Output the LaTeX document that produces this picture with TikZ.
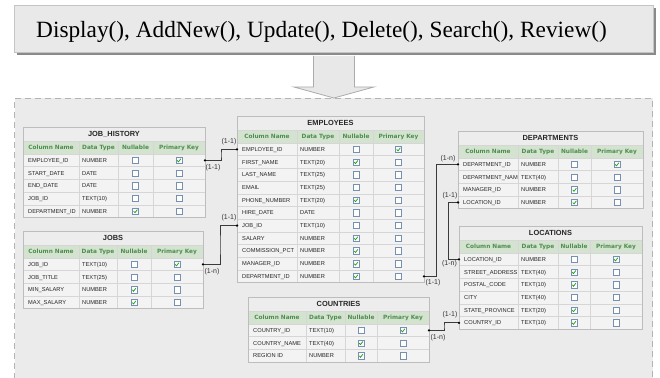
\documentclass[tikz,border=0pt]{standalone}
\usepackage{fontspec}
\setmainfont{Liberation Sans}
\newfontfamily\bannerfont{Liberation Serif}
\newfontfamily\headfont{DejaVu Sans}
\usetikzlibrary{calc}

\definecolor{areabg}{HTML}{EBEBEB}
\definecolor{areadash}{HTML}{B4B4B4}
\definecolor{banbg}{HTML}{E9E9E9}
\definecolor{banline}{HTML}{C4C4C4}
\definecolor{banshadow}{HTML}{8A8A8A}
\definecolor{arrowbg}{HTML}{E8E8E8}
\definecolor{arrowline}{HTML}{ABABAB}
\definecolor{tblline}{HTML}{BDBDBD}
\definecolor{gridline}{HTML}{D6D6D6}
\definecolor{rowbg}{HTML}{F3F3F3}
\definecolor{titlebg}{HTML}{EDEDED}
\definecolor{headbg}{HTML}{D4E2D0}
\definecolor{headtxt}{HTML}{4E8E4E}
\definecolor{boxline}{HTML}{7890B0}
\definecolor{tickgreen}{HTML}{1FA31F}
\definecolor{linkline}{HTML}{3A3A3A}

\tikzset{
  celltext/.style={anchor=base west, inner sep=0pt, font=\fontsize{5.7}{6}\selectfont, text=black!85},
  headtext/.style={anchor=base, inner sep=0pt, font=\headfont\bfseries\fontsize{5.8}{6}\selectfont, text=headtxt},
  titletext/.style={anchor=base, inner sep=0pt, font=\bfseries\fontsize{7.4}{8}\selectfont, text=black!85},
  tablebody/.style={draw=tblline, fill=rowbg, line width=0.8pt, anchor=north west, inner sep=0pt, outer sep=0pt},
  gridrule/.style={draw=gridline, line width=0.6pt},
  checkbox/.style={draw=boxline, fill=white, line width=0.6pt},
  tick/.style={draw=tickgreen, line width=0.75pt},
  link/.style={draw=linkline, line width=0.9pt},
  cardinality/.style={inner sep=0pt, font=\fontsize{7}{8}\selectfont, text=black!80},
}

% check box centred at (#1,#2); #3 = 1 draws the tick
\newcommand\ckbox[3]{%
  \draw[checkbox] ({#1-3.2},{#2-3.2}) rectangle ({#1+3.2},{#2+3.2});
  \ifnum#3=1 \draw[tick] ({#1-1.8},{#2+0.1}) -- ({#1-0.5},{#2+1.5}) -- ({#1+1.9},{#2-1.6});\fi
}

% table: name, left, top, column rules 1-3, right, title, rows
\newcommand\ertable[9]{%
  \def\nrows{0}%
  \foreach \r [count=\k] in {#9} {\xdef\nrows{\k}}%
  \pgfmathsetmacro\ybot{#3+27+12.7*\nrows}%
  \node[tablebody, minimum width={(#7-#2)*1pt}, minimum height={(\ybot-#3)*1pt}] (#1) at (#2,#3) {};
  \fill[titlebg] (#2,#3) rectangle (#7,{#3+14});
  \fill[headbg] (#2,{#3+14}) rectangle (#7,{#3+27});
  \draw[gridrule] (#2,{#3+14}) -- (#7,{#3+14});
  \draw[gridrule] (#2,{#3+27}) -- (#7,{#3+27});
  \foreach \i in {2,...,\nrows} {\draw[gridrule] (#2,{#3+27+12.7*(\i-1)}) -- (#7,{#3+27+12.7*(\i-1)});}
  \foreach \cx in {#4,#5,#6} {\draw[gridrule] (\cx,{#3+14}) -- (\cx,\ybot);}
  \draw[draw=tblline, line width=0.8pt] (#2,#3) rectangle (#7,\ybot);
  \node[titletext] at ({(#2+#7)/2},{#3+9.6}) {#8};
  \node[headtext] at ({(#2+#4)/2},{#3+22.6}) {Column Name};
  \node[headtext] at ({(#4+#5)/2},{#3+22.6}) {Data Type};
  \node[headtext] at ({(#5+#6)/2},{#3+22.6}) {Nullable};
  \node[headtext] at ({(#6+#7)/2},{#3+22.6}) {Primary Key};
  \begin{scope}
    \clip (#2,#3) rectangle ({#4-0.8},\ybot);
    \foreach \colnm/\dtype/\cbn/\cbp [count=\i] in {#9} {
      \node[celltext] at ({#2+5},{#3+27+12.7*(\i-0.5)+2}) {\colnm};
    }
  \end{scope}
  \foreach \colnm/\dtype/\cbn/\cbp [count=\i] in {#9} {
    \pgfmathsetmacro\yc{#3+27+12.7*(\i-0.5)}
    \node[celltext] at ({#4+3},{\yc+2}) {\dtype};
    \ckbox{(#5+#6)/2}{\yc}{\cbn}
    \ckbox{(#6+#7)/2}{\yc}{\cbp}
    \coordinate (#1-\i-w) at (#2,\yc);
    \coordinate (#1-\i-e) at (#7,\yc);
  }
}

\begin{document}
\begin{tikzpicture}[x=1pt,y=-1pt]
\useasboundingbox (0,0) rectangle (660,377);
\clip (0,0) rectangle (660,377);

% operations banner
\fill[banshadow] (17,8) rectangle (656,55);
\node[draw=banline, fill=banbg, line width=0.8pt, anchor=north west, minimum width=639pt, minimum height=47pt, inner sep=0pt] (banner) at (14,5) {};
\node[anchor=base west, inner sep=0pt, font=\bannerfont\fontsize{23.3}{26}\selectfont] (ops) at (36,37.3) {Display(), AddNew(), Update(), Delete(), Search(), Review()};

% schema area
\node[draw=areadash, dash pattern=on 6pt off 4pt, line width=1pt, fill=areabg, anchor=north west, minimum width=638pt, minimum height=300pt, inner sep=0pt] (area) at (14,98) {};

% block arrow from banner to schema
\draw[fill=arrowbg, draw=arrowline, line width=0.8pt]
  ($(banner.south)+(-20.5,3)$) -- ($(banner.south |- area.north)+(-20.5,-11)$)
  -- ($(banner.south |- area.north)+(-40,-11)$) -- (banner.south |- area.north)
  -- ($(banner.south |- area.north)+(40,-11)$) -- ($(banner.south |- area.north)+(20.5,-11)$)
  -- ($(banner.south)+(20.5,3)$);

% tables
\ertable{JH}{23}{127}{79}{118}{153}{205}{JOB\_HISTORY}{EMPLOYEE\_ID/NUMBER/0/1, START\_DATE/DATE/0/0, END\_DATE/DATE/0/0, JOB\_ID/TEXT(10)/0/0, DEPARTMENT\_ID/NUMBER/1/0}
\ertable{JOBS}{23}{231}{79}{117}{151}{203}{JOBS}{JOB\_ID/TEXT(10)/0/1, JOB\_TITLE/TEXT(25)/0/0, MIN\_SALARY/NUMBER/1/0, MAX\_SALARY/NUMBER/1/0}
\ertable{EMP}{237}{116}{297}{339}{373}{424}{EMPLOYEES}{EMPLOYEE\_ID/NUMBER/0/1, FIRST\_NAME/TEXT(20)/1/0, LAST\_NAME/TEXT(25)/0/0, EMAIL/TEXT(25)/0/0, PHONE\_NUMBER/TEXT(20)/1/0, HIRE\_DATE/DATE/0/0, JOB\_ID/TEXT(10)/0/0, SALARY/NUMBER/1/0, COMMISSION\_PCT/NUMBER/1/0, MANAGER\_ID/NUMBER/1/0, DEPARTMENT\_ID/NUMBER/1/0}
\ertable{DEP}{458}{131}{518}{558}{591}{643}{DEPARTMENTS}{DEPARTMENT\_ID/NUMBER/0/1, DEPARTMENT\_NAME/TEXT(40)/0/0, MANAGER\_ID/NUMBER/1/0, LOCATION\_ID/NUMBER/1/0}
\ertable{LOC}{459}{226}{518}{558}{590}{642}{LOCATIONS}{LOCATION\_ID/NUMBER/0/1, STREET\_ADDRESS/TEXT(40)/1/0, POSTAL\_CODE/TEXT(10)/1/0, CITY/TEXT(40)/0/0, STATE\_PROVINCE/TEXT(20)/1/0, COUNTRY\_ID/TEXT(10)/1/0}
\ertable{CTRY}{248}{297}{306}{345}{377}{429}{COUNTRIES}{COUNTRY\_ID/TEXT(10)/0/1, COUNTRY\_NAME/TEXT(40)/1/0, REGION ID/NUMBER/1/0}

% relationships
\draw[link] (JH-1-e) -| ($(JH-1-e)!.5!(EMP-1-w)$) |- (EMP-1-w);
\draw[link] (JOBS-1-e) -| ($(JOBS-1-e)!.5!(EMP-7-w)$) |- (EMP-7-w);
\draw[link] (EMP-11-e) -- ++(12,0) |- (DEP-1-w);
\draw[link] (DEP-4-w) -- ++(-10,0) |- (LOC-1-w);
\draw[link] (CTRY-1-e) -| ($(CTRY-1-e)!.5!(LOC-6-w)$) |- (LOC-6-w);
\foreach \p in {JH-1-e,EMP-1-w,JOBS-1-e,EMP-7-w,EMP-11-e,DEP-1-w,DEP-4-w,LOC-1-w,CTRY-1-e,LOC-6-w}
  \fill[black] (\p) circle (1.3pt);

% cardinalities
\node[cardinality] at ($(EMP-1-w)+(-8,-8)$) {(1-1)};
\node[cardinality] at ($(JH-1-e)+(8,7)$) {(1-1)};
\node[cardinality] at ($(EMP-7-w)+(-8,-8)$) {(1-1)};
\node[cardinality] at ($(JOBS-1-e)+(9,7)$) {(1-n)};
\node[cardinality] at ($(EMP-11-e)+(9,6)$) {(1-1)};
\node[cardinality] at ($(DEP-1-w)+(-10,-6)$) {(1-n)};
\node[cardinality] at ($(DEP-4-w)+(-8,-7)$) {(1-1)};
\node[cardinality] at ($(LOC-1-w)+(-9.5,4)$) {(1-n)};
\node[cardinality] at ($(LOC-6-w)+(-9,-8)$) {(1-1)};
\node[cardinality] at ($(CTRY-1-e)+(9,7)$) {(1-n)};
\end{tikzpicture}
\end{document}
